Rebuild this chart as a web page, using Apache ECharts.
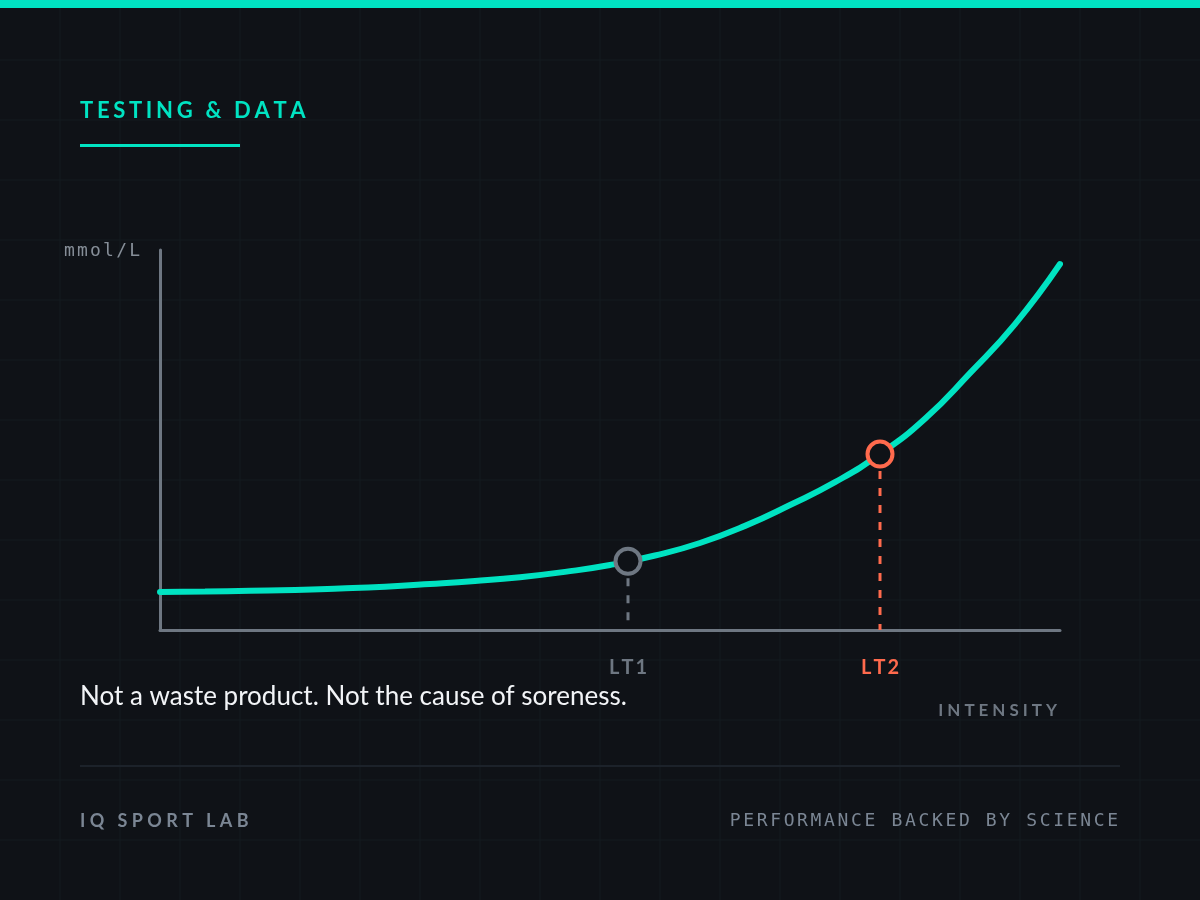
<!DOCTYPE html>
<html>
<head>
<meta charset="utf-8">
<title>Testing &amp; Data - lactate curve</title>
<script src="https://cdn.jsdelivr.net/npm/echarts@6/dist/echarts.min.js"></script>
<style>
  html, body { margin: 0; padding: 0; background: #0f1217; }
  #main { width: 1200px; height: 900px; }
</style>
</head>
<body>
<div id="main"></div>
<script>
// lactate curve (intensity %, mmol/L)
var intensity = [0, 5, 10, 15, 20, 25, 30, 35, 40, 45, 50, 55, 60, 65, 70, 75, 80, 85, 90, 95, 100];
var lactate = [1.00, 1.01, 1.03, 1.05, 1.09, 1.14, 1.21, 1.29, 1.39, 1.53, 1.71, 1.96, 2.29, 2.74, 3.29, 3.89, 4.63, 5.56, 6.76, 8.05, 9.63];

// thresholds
var ltNames = ['LT1', 'LT2'];
var ltX = [52, 80];
var ltY = [1.81, 4.63];

var BG = '#0f1217';
var TEAL = '#00e3c2';
var GRAY = '#6e7782';
var ORANGE = '#ff6a4d';
var ltColors = [GRAY, ORANGE];

// letter spacing helpers: small monospace spaces between the letters
function gap(px) {
  return { fontFamily: 'DejaVu Sans Mono', fontSize: px / 0.602, lineHeight: 10 };
}
function spread(str, g) {
  return str.split('').join('{' + g + '| }');
}
function spreadTok(str, name, g) {
  return str.split('').map(function (c) { return '{' + name + '|' + c + '}'; }).join('{' + g + '| }');
}

var curve = intensity.map(function (x, i) { return [x, lactate[i]]; });

var series = [{
  type: 'line',
  data: curve,
  smooth: 0.5,
  showSymbol: false,
  lineStyle: { color: TEAL, width: 6, cap: 'round' },
  z: 3,
  silent: true
}];

for (var i = 0; i < ltNames.length; i++) {
  // dashed drop line
  series.push({
    type: 'line',
    data: [[ltX[i], ltY[i]], [ltX[i], 0]],
    showSymbol: false,
    lineStyle: { color: ltColors[i], width: 3, type: [8, 9] },
    z: 2,
    silent: true
  });
  // hollow marker
  series.push({
    type: 'scatter',
    data: [[ltX[i], ltY[i]]],
    symbol: 'circle',
    symbolSize: 25,
    itemStyle: { color: BG, borderColor: ltColors[i], borderWidth: 4, opacity: 1 },
    z: 5,
    silent: true
  });
}

// faint background grid
var bgLines = [];
for (var gx = 60; gx < 1200; gx += 60) {
  bgLines.push({ type: 'line', z: -10, silent: true,
    shape: { x1: gx, y1: 0, x2: gx, y2: 900 },
    style: { stroke: '#151a20', lineWidth: 1 } });
}
for (var gy = 60; gy < 900; gy += 60) {
  bgLines.push({ type: 'line', z: -10, silent: true,
    shape: { x1: 0, y1: gy, x2: 1200, y2: gy },
    style: { stroke: '#151a20', lineWidth: 1 } });
}

function label(x, y, str, font, fill, align, g) {
  return {
    type: 'text', x: x, y: y, silent: true,
    style: {
      text: g ? spread(str, 'g') : str,
      font: font, fill: fill,
      align: align, textAlign: align,
      verticalAlign: 'middle', textVerticalAlign: 'middle',
      rich: g ? { g: gap(g) } : undefined
    }
  };
}

var option = {
  backgroundColor: BG,
  animation: false,
  grid: { left: 160, right: 140, top: 250, bottom: 270 },
  xAxis: {
    type: 'value', min: 0, max: 100,
    axisLine: { show: true, lineStyle: { color: GRAY, width: 3 } },
    axisTick: { show: false },
    splitLine: { show: false },
    axisLabel: {
      customValues: ltX,
      margin: 28,
      formatter: function (v) {
        var k = ltX.indexOf(v);
        if (k < 0) return '';
        return spreadTok(ltNames[k], k === 0 ? 'a' : 'b', 'g');
      },
      rich: {
        a: { color: GRAY, fontFamily: 'Lato', fontWeight: 'bold', fontSize: 20 },
        b: { color: ORANGE, fontFamily: 'Lato', fontWeight: 'bold', fontSize: 20 },
        g: gap(2)
      }
    }
  },
  yAxis: {
    type: 'value', min: 0, max: 10,
    axisLine: { show: true, lineStyle: { color: GRAY, width: 3 } },
    axisTick: { show: false },
    axisLabel: { show: false },
    splitLine: { show: false }
  },
  graphic: bgLines.concat([
    { type: 'rect', z: 10, silent: true, shape: { x: 0, y: 0, width: 1200, height: 8 }, style: { fill: TEAL } },
    label(80, 111, 'TESTING & DATA', 'bold 22px Lato', TEAL, 'left', 3.7),
    { type: 'rect', silent: true, shape: { x: 80, y: 144, width: 160, height: 3 }, style: { fill: TEAL } },
    label(140, 251, 'mmol/L', '18px "DejaVu Sans Mono"', '#868e98', 'right', 2.2),
    label(80, 697, 'Not a waste product. Not the cause of soreness.', '26px Lato', '#f2f4f7', 'left', 0),
    label(1057, 711, 'INTENSITY', 'bold 17px Lato', GRAY, 'right', 4.0),
    { type: 'rect', silent: true, shape: { x: 80, y: 765, width: 1040, height: 2 }, style: { fill: '#1c222a' } },
    label(80, 821, 'IQ SPORT LAB', 'bold 18px Lato', '#7b8694', 'left', 4.4),
    label(1118, 821, 'PERFORMANCE BACKED BY SCIENCE', '18px "DejaVu Sans Mono"', '#7b8694', 'right', 2.65)
  ]),
  series: series
};

var chart = echarts.init(document.getElementById('main'), null, { renderer: 'canvas' });
chart.setOption(option);
</script>
</body>
</html>
